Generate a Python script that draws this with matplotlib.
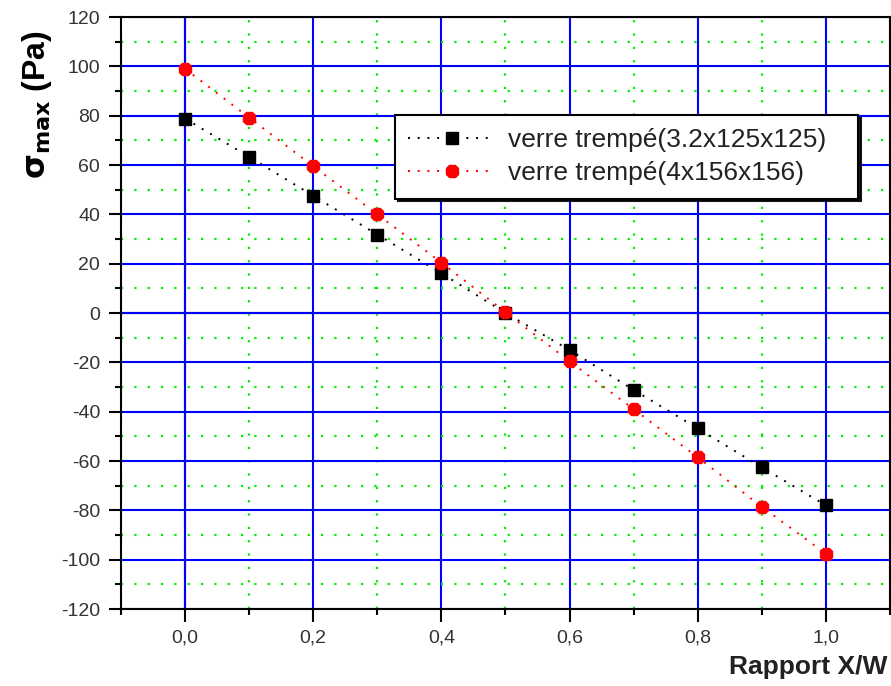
import matplotlib
matplotlib.use('Agg')
import matplotlib.pyplot as plt
from matplotlib.ticker import MultipleLocator, FuncFormatter

plt.rcParams['font.family'] = ['Liberation Sans', 'DejaVu Sans']
plt.rcParams['axes.unicode_minus'] = False
plt.rcParams['mathtext.fontset'] = 'dejavusans'

# données
x_ratio = [0.0, 0.1, 0.2, 0.3, 0.4, 0.5, 0.6, 0.7, 0.8, 0.9, 1.0]
sigma_32 = [78.8, 63.3, 47.5, 31.8, 16.1, 0.0, -15.0, -31.2, -46.8, -62.6, -78.0]
sigma_4 = [99.0, 79.2, 59.5, 40.0, 20.4, 0.3, -19.6, -39.0, -58.5, -78.6, -97.6]
labels = ['verre trempé(3.2x125x125)', 'verre trempé(4x156x156)']

W, H = 891, 686
fig = plt.figure(figsize=(W / 100, H / 100), dpi=100)
ax = fig.add_axes([121 / W, 1 - 609 / H, (890 - 121) / W, (609 - 17) / H])

# grille
ax.xaxis.set_major_locator(MultipleLocator(0.2))
ax.xaxis.set_minor_locator(MultipleLocator(0.1))
ax.yaxis.set_major_locator(MultipleLocator(20))
ax.yaxis.set_minor_locator(MultipleLocator(10))
ax.grid(True, which='major', color='#0000ff', linewidth=1.5, zorder=0)
ax.grid(True, which='minor', color='#00ee00', linestyle=(0, (1, 5)), linewidth=1.6, zorder=0)
ax.axvline(0, color='black', linewidth=1.5, zorder=1)
ax.axhline(0, color='black', linewidth=1.5, zorder=1)

ax.plot(x_ratio, sigma_32, color='black', linestyle=(0, (1, 4)), linewidth=1.4,
        marker='s', markersize=8.5, label=labels[0], zorder=3)
ax.plot(x_ratio, sigma_4, color='red', linestyle=(0, (1, 4)), linewidth=1.4,
        marker='8', markersize=10, label=labels[1], zorder=3)

ax.set_xlim(-0.1, 1.1)
ax.set_ylim(-120, 120)

for s in ax.spines.values():
    s.set_linewidth(1.5)
    s.set_color('black')

ax.tick_params(which='major', direction='out', length=9, width=1.5, labelsize=14,
               labelcolor='#333333', pad=6)
ax.tick_params(which='minor', direction='out', length=4, width=1.5)
ax.xaxis.set_major_formatter(FuncFormatter(lambda v, p: f'{v:.1f}'.replace('.', ',')))
ax.yaxis.set_major_formatter(FuncFormatter(lambda v, p: f'{int(round(v))}'))

# légende
leg = ax.legend(loc='upper left', bbox_to_anchor=(395 / W, 0.5, (858 - 395) / W, 1 - 115 / H - 0.5),
                bbox_transform=fig.transFigure, mode='expand', borderaxespad=0,
                fontsize=19, fancybox=False, edgecolor='black', framealpha=1,
                handlelength=3.3, handletextpad=0.5, borderpad=0.5, labelspacing=0.35,
                shadow={'color': 'black', 'alpha': 0.9})
leg.get_frame().set_linewidth(1.5)
for t in leg.get_texts():
    t.set_color('#222222')

fig.text(37 / W, 1 - 105 / H, r'$\mathbf{\sigma_{max}}$ (Pa)', rotation=90,
         ha='center', va='center', fontsize=23, fontweight='bold')
fig.text(887 / W, 1 - 667 / H, 'Rapport X/W', ha='right', va='center',
         fontsize=19, fontweight='bold', color='#222222')

fig.savefig('out.png', dpi=100)
